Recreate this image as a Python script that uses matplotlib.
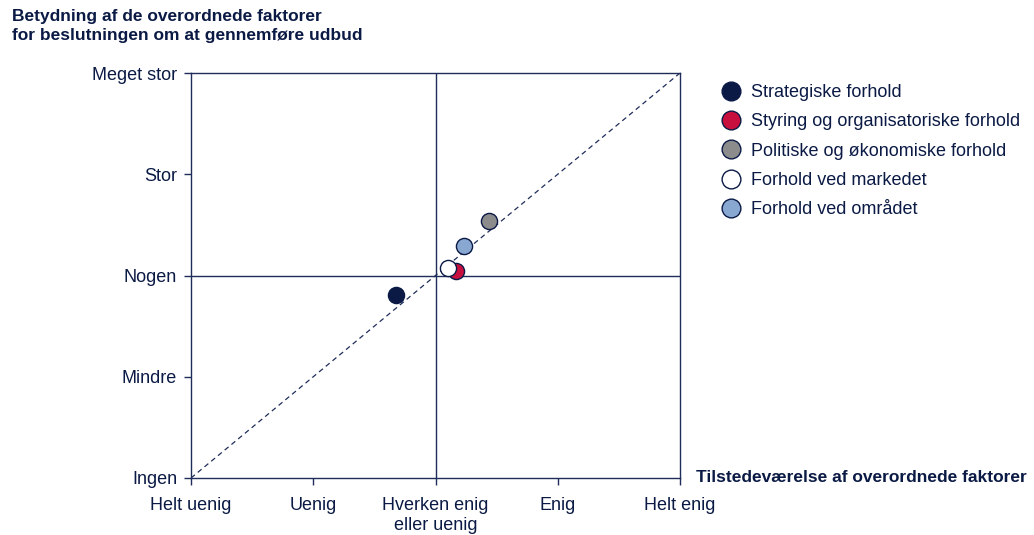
import matplotlib
matplotlib.use("Agg")
import matplotlib.pyplot as plt
from matplotlib.lines import Line2D

plt.rcParams['font.family'] = ['Liberation Sans', 'DejaVu Sans']

# Factor groups and their average scores (x: presence, y: importance)
categories = [
    "Strategiske forhold",
    "Styring og organisatoriske forhold",
    "Politiske og økonomiske forhold",
    "Forhold ved markedet",
    "Forhold ved området",
]
presence = [2.68, 3.17, 3.44, 3.10, 3.23]
importance = [2.81, 3.04, 3.54, 3.07, 3.29]
colors = ["#0b1a45", "#c8103e", "#8c8c8c", "#ffffff", "#88a8d2"]

x_ticklabels = ["Helt uenig", "Uenig", "Hverken enig\neller uenig", "Enig", "Helt enig"]
y_ticklabels = ["Ingen", "Mindre", "Nogen", "Stor", "Meget stor"]

navy = "#0b1a45"
line_col = "#1f2d5a"

fig = plt.figure(figsize=(10.34, 5.35), dpi=100)
ax = fig.add_axes([191 / 1034, 1 - 478 / 535, (680 - 191) / 1034, (478 - 73) / 535])

ax.set_xlim(1, 5)
ax.set_ylim(1, 5)

# Reference lines: diagonal and the neutral cross
ax.plot([1, 5], [1, 5], ls=(0, (4, 3)), color=line_col, lw=0.9, zorder=1)
ax.axvline(3, color=line_col, lw=1.0, zorder=1)
ax.axhline(3, color=line_col, lw=1.0, zorder=1)

# Draw in an order so the white marker sits on top of the red one
order = [0, 2, 4, 1, 3]
for i in order:
    ax.scatter(presence[i], importance[i], s=135, color=colors[i],
               edgecolor=navy, linewidth=1.0, zorder=3 + order.index(i))

ax.set_xticks(range(1, 6))
ax.set_xticklabels(x_ticklabels)
ax.set_yticks(range(1, 6))
ax.set_yticklabels(y_ticklabels)
ax.tick_params(axis='both', direction='out', length=5, width=1.0, color=line_col,
               labelsize=13, labelcolor=navy)
ax.tick_params(axis='x', pad=9)
ax.tick_params(axis='y', pad=5)
for s in ax.spines.values():
    s.set_color(line_col)
    s.set_linewidth(1.0)

fig.text(12 / 1034, 1 - 9 / 535,
         "Betydning af de overordnede faktorer\nfor beslutningen om at gennemføre udbud",
         ha='left', va='top', fontsize=12.5, fontweight='bold', color=navy, linespacing=1.3)
fig.text(696 / 1034, 1 - 478 / 535, "Tilstedeværelse af overordnede faktorer",
         ha='left', va='center', fontsize=12.5, fontweight='bold', color=navy)

handles = [Line2D([], [], marker='o', ls='none', markersize=13.5,
                  markerfacecolor=c, markeredgecolor=navy, markeredgewidth=1.0)
           for c in colors]
leg = fig.legend(handles, categories, loc='upper left',
                 bbox_to_anchor=(713 / 1034, 1 - 77 / 535), frameon=False,
                 fontsize=13, labelspacing=0.68, handletextpad=0.5,
                 handlelength=1.2, borderaxespad=0)
for t in leg.get_texts():
    t.set_color(navy)

fig.savefig("out.png", dpi=100)
